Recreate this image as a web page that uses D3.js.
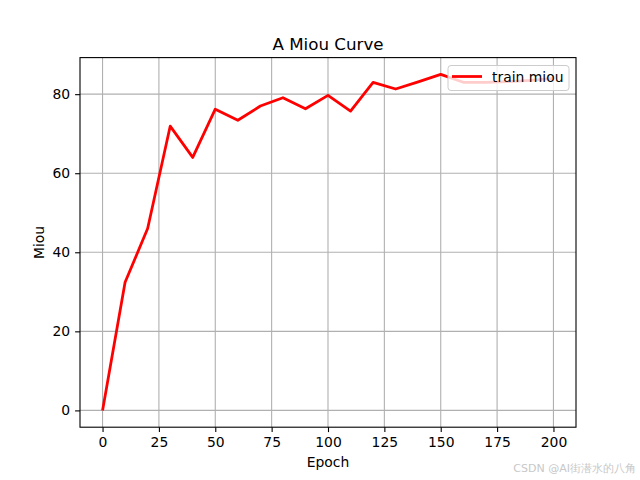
<!DOCTYPE html>
<html><head><meta charset="utf-8">
<script src="https://cdn.jsdelivr.net/npm/d3@7"></script>
<style>body{margin:0;background:#fff}svg{display:block}text{font-family:"DejaVu Sans",sans-serif}</style>
</head><body><svg id="c" width="640" height="480"></svg>
<script>
const epochs = [0,10,20,30,40,50,60,70,80,90,100,110,120,130,140,150,160,170,180,190,200];
const miou   = [0,32.4,46,71.9,64,76.2,73.4,77,79.1,76.3,79.7,75.7,83,81.3,83.1,85,83,83,83.2,83.5,84];
const xTicks = [0,25,50,75,100,125,150,175,200];
const yTicks = [0,20,40,60,80];

const svg = d3.select("#c");
const L=80, R=576, T=57.6, B=427.2;
const x = d3.scaleLinear().domain([-10,210]).range([L,R]);
const y = d3.scaleLinear().domain([-4.25,89.25]).range([B,T]);

// grid
svg.append("g").selectAll("line").data(xTicks).join("line")
  .attr("x1",d=>x(d)).attr("x2",d=>x(d)).attr("y1",T).attr("y2",B)
  .attr("stroke","#b0b0b0").attr("stroke-width",1.1);
svg.append("g").selectAll("line").data(yTicks).join("line")
  .attr("y1",d=>y(d)).attr("y2",d=>y(d)).attr("x1",L).attr("x2",R)
  .attr("stroke","#b0b0b0").attr("stroke-width",1.1);

// line
svg.append("path").datum(epochs.map((e,i)=>[e,miou[i]]))
  .attr("d",d3.line().x(d=>x(d[0])).y(d=>y(d[1])))
  .attr("fill","none").attr("stroke","red").attr("stroke-width",2.78)
  .attr("stroke-linejoin","round");

// axes
const xa = svg.append("g").attr("transform",`translate(0,${B})`)
  .call(d3.axisBottom(x).tickValues(xTicks).tickSize(4.9).tickPadding(4.9));
const ya = svg.append("g").attr("transform",`translate(${L},0)`)
  .call(d3.axisLeft(y).tickValues(yTicks).tickSize(4.9).tickPadding(4.9));
[xa,ya].forEach(a=>{
  a.select(".domain").remove();
  a.selectAll("line").attr("stroke","#000").attr("stroke-width",1.1);
  a.selectAll("text").attr("font-size",13.9).attr("fill","#000").attr("font-family","DejaVu Sans");
});
svg.append("rect").attr("x",L).attr("y",T).attr("width",R-L).attr("height",B-T)
  .attr("fill","none").attr("stroke","#000").attr("stroke-width",1.1);

// labels
svg.append("text").attr("x",(L+R)/2).attr("y",50).attr("text-anchor","middle")
  .attr("font-size",16.7).text("A Miou Curve");
svg.append("text").attr("x",(L+R)/2).attr("y",467).attr("text-anchor","middle")
  .attr("font-size",13.9).text("Epoch");
svg.append("text").attr("transform",`translate(44,${(T+B)/2}) rotate(-90)`).attr("text-anchor","middle")
  .attr("font-size",13.9).text("Miou");

// legend
const lg = svg.append("g");
lg.append("rect").attr("x",448).attr("y",65.5).attr("width",121).attr("height",25).attr("rx",3)
  .attr("fill","#fff").attr("fill-opacity",0.8).attr("stroke","#ccc").attr("stroke-width",1);
lg.append("line").attr("x1",452).attr("x2",482).attr("y1",76.5).attr("y2",76.5)
  .attr("stroke","red").attr("stroke-width",2.78);
lg.append("text").attr("x",492).attr("y",81.5).attr("font-size",13.9).text("train miou");

// watermark
svg.append("text").attr("x",636).attr("y",472).attr("text-anchor","end")
  .attr("font-size",11).attr("fill","#c8c8c8")
  .attr("font-family","'Noto Sans CJK SC',sans-serif").text("CSDN @AI街潜水的八角");
</script></body></html>
